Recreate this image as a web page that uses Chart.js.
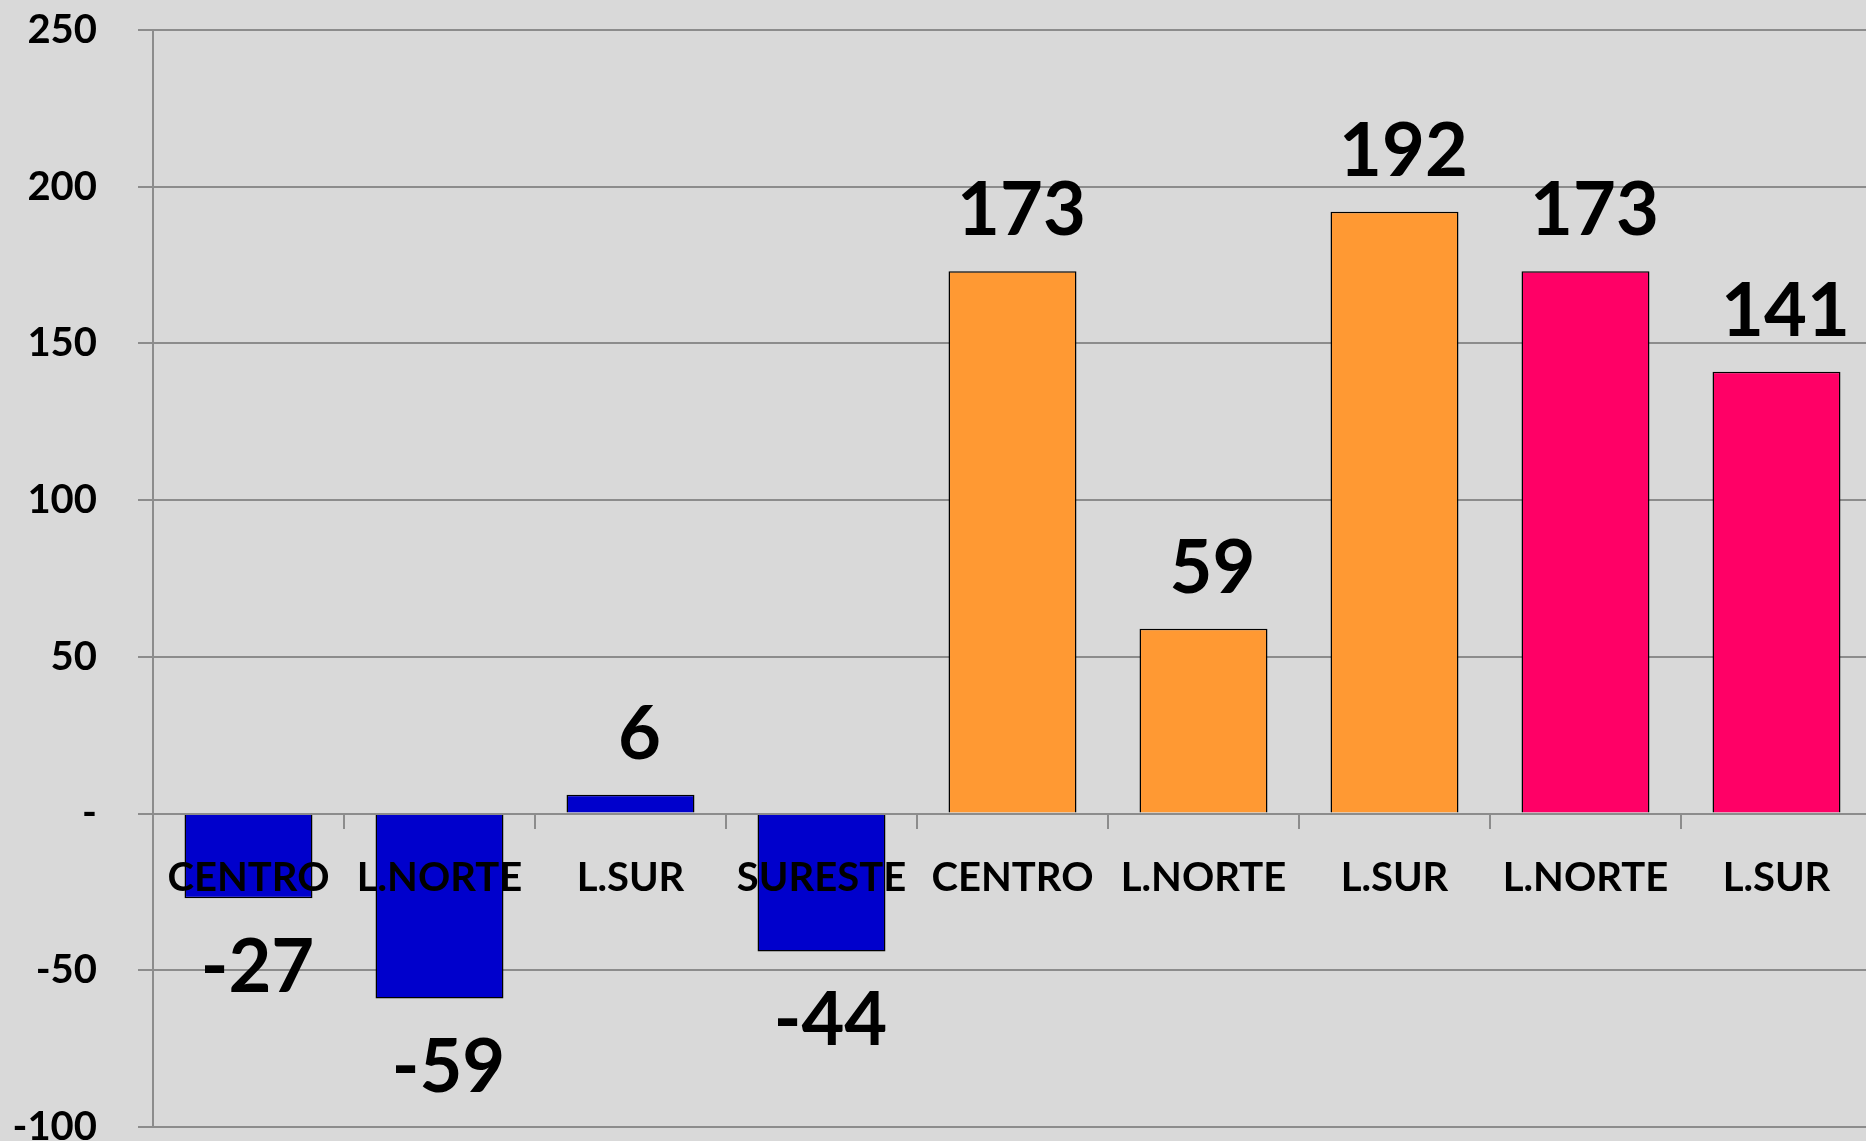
<!DOCTYPE html>
<html>
<head>
<meta charset="utf-8">
<script src="https://cdn.jsdelivr.net/npm/chart.js@4/dist/chart.umd.min.js"></script>
<style>
  html, body { margin: 0; padding: 0; background: #d9d9d9; overflow: hidden; }
  #wrap { position: absolute; left: 0; top: 0; }
</style>
</head>
<body>
<div id="wrap"><canvas id="c" width="1872" height="1160"></canvas></div>
<script>
const categories = ["CENTRO", "L.NORTE", "L.SUR", "SURESTE", "CENTRO", "L.NORTE", "L.SUR", "L.NORTE", "L.SUR"];
const values = [-27, -59, 6, -44, 173, 59, 192, 173, 141];
const barColors = ["#0000cc", "#0000cc", "#0000cc", "#0000cc", "#ff9933", "#ff9933", "#ff9933", "#ff0066", "#ff0066"];
const yMin = -100, yMax = 250, yStep = 50;

const FONT = "Lato, 'Open Sans', sans-serif";

const valueLabels = {
  id: 'valueLabels',
  afterDatasetsDraw(chart) {
    const ctx = chart.ctx;
    const meta = chart.getDatasetMeta(0);
    ctx.save();
    ctx.font = "bold 74px " + FONT;
    ctx.fillStyle = "#000";
    ctx.textAlign = "center";
    ctx.textBaseline = "alphabetic";
    meta.data.forEach((el, i) => {
      const v = values[i];
      const y = v >= 0 ? el.y - 36 : el.y + 94;
      ctx.fillText(String(v), el.x + 9, y);
    });
    ctx.restore();
  }
};

new Chart(document.getElementById('c'), {
  type: 'bar',
  plugins: [valueLabels],
  data: {
    labels: categories,
    datasets: [{
      data: values,
      backgroundColor: barColors,
      borderColor: "#000",
      borderWidth: 1.5,
      barPercentage: 0.67,
      categoryPercentage: 1.0
    }]
  },
  options: {
    responsive: false,
    animation: false,
    layout: { padding: { top: 30, right: 0, bottom: 33, left: 0 } },
    plugins: { legend: { display: false }, tooltip: { enabled: false } },
    scales: {
      x: {
        position: { y: 0 },
        afterFit(scale) { scale.height = 0; scale.paddingLeft = 0; scale.paddingRight = 0; },
        grid: {
          offset: true,
          drawOnChartArea: false,
          drawTicks: true,
          tickLength: 14,
          color: "#8c8c8c",
          lineWidth: 2,
          z: 1
        },
        border: { display: true, color: "#8c8c8c", width: 2, z: 1 },
        ticks: {
          z: 1,
          color: "#000",
          font: { family: FONT, size: 40, weight: "bold" },
          padding: 27,
          maxRotation: 0,
          autoSkip: false
        }
      },
      y: {
        min: yMin,
        max: yMax,
        afterFit(scale) { scale.width = 153; scale.paddingTop = 0; scale.paddingBottom = 0; },
        grid: {
          color: "#8c8c8c",
          lineWidth: 2,
          tickLength: 15
        },
        border: { display: true, color: "#8c8c8c", width: 2 },
        ticks: {
          stepSize: yStep,
          color: "#000",
          padding: 41,
          font: { family: FONT, size: 40, weight: "bold" },
          callback: (v) => v === 0 ? "-" : String(v)
        }
      }
    }
  }
});
</script>
</body>
</html>
